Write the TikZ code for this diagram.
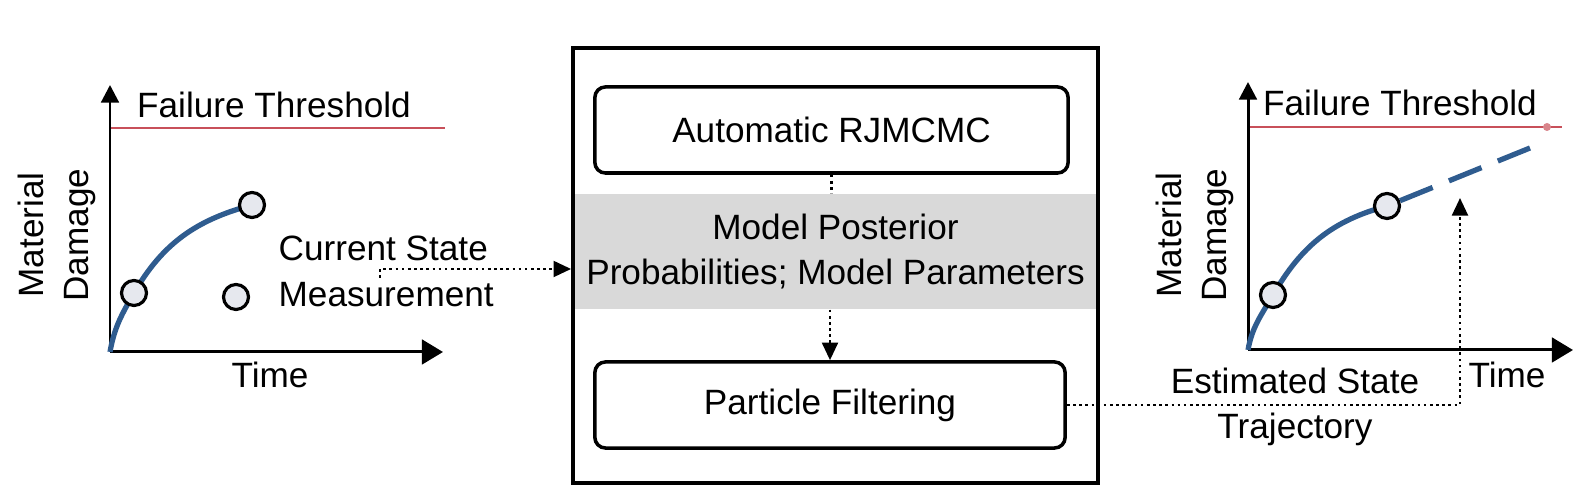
\documentclass[tikz,border=0pt]{standalone}
\usepackage{fontspec}
\setmainfont{Liberation Sans}
\usetikzlibrary{arrows.meta, positioning}
\definecolor{curveblue}{HTML}{2F5C8F}
\definecolor{limitred}{HTML}{C8505A}
\definecolor{panelgrey}{HTML}{D9D9D9}
\definecolor{markfill}{HTML}{E6E8EE}

\begin{document}
\begin{tikzpicture}
	[x=0.01cm, y=0.01cm, font=\fontsize{10}{12.6}\selectfont,
	 axis/.style={line width=0.85pt, -{Triangle[length=5pt,width=5pt]}},
	 xaxis/.style={line width=0.85pt, -{Triangle[length=6pt,width=7pt]}},
	 limit/.style={line width=0.8pt, limitred},
	 curve/.style={line width=1.5pt, curveblue},
	 meas/.style={circle, draw, fill=markfill, line width=0.9pt, minimum size=0.25cm, inner sep=0pt},
	 block/.style={draw, rounded corners=3pt, line width=1pt, minimum height=0.86cm},
	 flow/.style={densely dotted, line width=0.75pt},
	 tip/.style={-{Triangle[length=5pt,width=4.5pt]}}]
   \useasboundingbox (0,0) rectangle (1596,498);
   % left plot
   \coordinate (o_1) at (110,146);
   \coordinate (p_1) at (134,205);
   \coordinate (p_2) at (252,293);
   \draw[limit] (110,370) -- (445,370);
   \draw[axis] (o_1) -- (110,413);
   \draw[xaxis] (o_1) -- (443,146);
   \draw[curve] (o_1) to[out=80,in=240] (p_1) to[out=60,in=195] (p_2);
   \node[meas] (m_1) at (p_1) {};
   \node[meas] (m_2) at (p_2) {};
   \node (ft_1) at (274,393) {Failure Threshold};
   \node[rotate=90, align=center] (yl_1) at (57,263) {Material\\Damage};
   \node (t_1) at (270,123) {Time};
   \node[meas] (leg) at (236,201) {};
   \node[anchor=west, inner sep=0pt] (lm) at (278,203) {Measurement};
   \node[anchor=west, inner sep=0pt] (lc) at (278,250) {Current State};
   % centre block
   \node[draw, line width=1pt, minimum width=5.25cm, minimum height=4.35cm] (frame) at (835.5,232.5) {};
   \node[block, minimum width=4.73cm] (rjm) at (831.5,368) {Automatic RJMCMC};
   \node[fill=panelgrey, minimum width=5.05cm, minimum height=1.15cm, align=center] (post) at (835.5,246.5)
        {Model Posterior\\Probabilities; Model Parameters};
   \node[block, minimum width=4.70cm] (pf) at (830,93) {Particle Filtering};
   \coordinate (cs_1) at (380,220);
   \coordinate (cs_2) at (380,229);
   \draw[flow, tip] (cs_1) -- (cs_2) -- (cs_2 -| frame.west);
   \draw[flow] (rjm.south) -- (rjm.south |- post.north);
   \draw[flow, tip] (pf.north |- post.south) -- (pf.north);
   % right plot
   \coordinate (o_2) at (1248,148);
   \coordinate (p_3) at (1273,203);
   \coordinate (p_4) at (1387,292);
   \coordinate (e_2) at (1530,350);
   \draw[limit] (1248,371) -- (1562,371);
   \fill[limitred!70] (1547,371) circle (4);
   \draw[axis] (o_2) -- (1248,416);
   \draw[xaxis] (o_2) -- (1573,148);
   \draw[curve] (o_2) to[out=80,in=240] (p_3) to[out=60,in=195] (p_4);
   \node[meas] (m_3) at (p_3) {};
   \node[meas] (m_4) at (p_4) {};
   \draw[curve, dash pattern=on 10pt off 5pt] (m_4) -- (e_2);
   \node (ft_2) at (1400,395) {Failure Threshold};
   \node[rotate=90, align=center] (yl_2) at (1195,263) {Material\\Damage};
   \node (t_2) at (1507,123) {Time};
   \node[align=center] (est) at (1295,91) {Estimated State\\Trajectory};
   \coordinate (up) at (1460,300);
   \draw[flow, tip] (pf.east) -| (up);
\end{tikzpicture}
\end{document}
